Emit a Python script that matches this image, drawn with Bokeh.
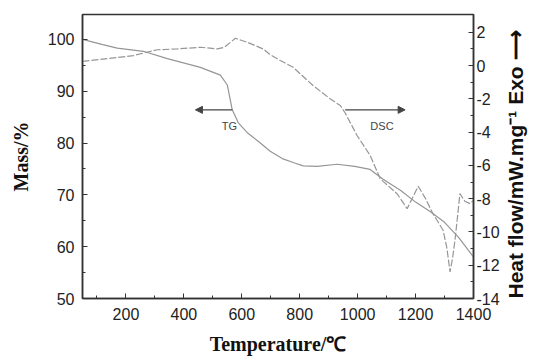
import math
from bokeh.plotting import figure
from bokeh.models import (Range1d, LinearAxis, FixedTicker, Arrow, NormalHead, Label)
from bokeh.embed import file_html
from bokeh.resources import INLINE

# ---- data ----
tg_temp = [50, 120, 170, 260, 343, 457, 526, 550, 567, 588, 619, 664, 698, 740, 780, 812,
           860, 929, 990, 1043, 1088, 1150, 1200, 1250, 1300, 1350, 1400]
tg_mass = [100.0, 99.0, 98.3, 97.7, 96.3, 94.6, 93.1, 91.2, 86.4, 83.9, 82.0, 80.0, 78.4,
           77.0, 76.2, 75.6, 75.5, 75.9, 75.5, 74.9, 73.0, 70.8, 68.6, 66.8, 64.7, 61.7, 58.0]

dsc_temp = [50, 112, 226, 260, 308, 377, 457, 515, 540, 578, 619, 674, 698, 733, 777, 846,
            905, 940, 957, 998, 1043, 1078, 1088, 1136, 1171, 1188, 1209, 1233, 1260, 1295,
            1308, 1319, 1328, 1336, 1346, 1353, 1370, 1388, 1400]
dsc_heat = [0.25, 0.37, 0.6, 0.75, 0.95, 1.0, 1.1, 1.0, 1.1, 1.64, 1.4, 1.0, 0.65, 0.3,
            -0.1, -1.2, -2.0, -2.4, -2.85, -4.2, -5.4, -6.8, -6.96, -7.7, -8.6, -8.0, -7.25,
            -7.95, -8.9, -9.9, -10.95, -12.4, -11.55, -10.5, -8.9, -7.7, -8.15, -8.3, -8.1]

x_ticks = [200, 400, 600, 800, 1000, 1200, 1400]
x_minor = [100, 300, 500, 700, 900, 1100, 1300]
mass_ticks = [50, 60, 70, 80, 90, 100]
mass_minor = [55, 65, 75, 85, 95]
heat_ticks = [-14, -12, -10, -8, -6, -4, -2, 0, 2]
heat_minor = [-13, -11, -9, -7, -5, -3, -1, 1]
heat_tick_labels = ["-14", "-12", "-10", "-8", "-6", "-4", "-2", "0", "2"]

right_title = "Heat flow/mW.mg\u207b\u00b9  Exo \u27f6"

# annotation positions (data units: temperature, mass)
tg_arrow = (567, 440, 86.4)
dsc_arrow = (957, 1164, 86.4)
tg_label = (557, 83.3)
dsc_label = (1084, 83.3)

GRAY = "#969696"
DARK = "#333333"

p = figure(width=541, height=357, output_backend="svg", toolbar_location=None,
           x_range=Range1d(50, 1400), y_range=Range1d(50, 104.8),
           min_border_left=82, min_border_right=68, min_border_top=14, min_border_bottom=57)
p.extra_y_ranges = {"dsc": Range1d(-14, 3.07)}
p.xgrid.visible = False
p.ygrid.visible = False
p.outline_line_color = DARK
p.outline_line_width = 1.5
p.background_fill_color = "white"

p.line(tg_temp, tg_mass, line_color=GRAY, line_width=1.2)
p.line(dsc_temp, dsc_heat, y_range_name="dsc", line_color=GRAY, line_width=1.2,
       line_dash="7 2")

for (xs, xe, yy) in (tg_arrow, dsc_arrow):
    p.add_layout(Arrow(end=NormalHead(size=7, fill_color="#444444", line_color="#444444"),
                       x_start=xs, y_start=yy, x_end=xe, y_end=yy,
                       line_color="#444444", line_width=1.2))
for txt, (tx, ty) in (("TG", tg_label), ("DSC", dsc_label)):
    p.add_layout(Label(x=tx, y=ty, text=txt, text_font="Liberation Sans", text_font_size="11px",
                       text_color="#444444", text_align="center", text_baseline="middle"))

def style(ax):
    ax.axis_line_color = DARK
    ax.axis_line_width = 1.5
    ax.major_tick_line_color = DARK
    ax.minor_tick_line_color = DARK
    ax.major_tick_in = 5
    ax.major_tick_out = 0
    ax.minor_tick_in = 3
    ax.minor_tick_out = 0
    ax.major_label_text_font = "Liberation Sans"
    ax.major_label_text_font_size = "16px"
    ax.major_label_text_color = "#222222"

xa = p.xaxis[0]
style(xa)
xa.ticker = FixedTicker(ticks=x_ticks, minor_ticks=x_minor)
xa.axis_label = "Temperature/\u2103"
xa.axis_label_text_font = "Liberation Serif"
xa.axis_label_text_font_style = "bold"
xa.axis_label_text_font_size = "20px"
xa.axis_label_text_color = "#111111"
xa.major_label_standoff = 9
xa.axis_label_standoff = 10

ya = p.yaxis[0]
style(ya)
ya.ticker = FixedTicker(ticks=mass_ticks, minor_ticks=mass_minor)
ya.axis_label = "Mass/%"
ya.axis_label_text_font = "Liberation Serif"
ya.axis_label_text_font_style = "bold"
ya.axis_label_text_font_size = "20px"
ya.axis_label_text_color = "#111111"
ya.major_label_standoff = 8
ya.axis_label_standoff = 13

ra = LinearAxis(y_range_name="dsc")
style(ra)
ra.ticker = FixedTicker(ticks=heat_ticks, minor_ticks=heat_minor)
ra.major_label_overrides = {t: s for t, s in zip(heat_ticks, heat_tick_labels)}
ra.major_label_standoff = 3
ra.axis_label = right_title
ra.axis_label_text_font = "Liberation Sans"
ra.axis_label_text_font_style = "bold"
ra.axis_label_text_font_size = "21px"
ra.axis_label_text_color = "#111111"
ra.axis_label_standoff = 13
ra.axis_label_orientation = math.pi / 2
ra.axis_label_align = "start"
p.add_layout(ra, "right")

open("out.html", "w").write(file_html(p, INLINE))
